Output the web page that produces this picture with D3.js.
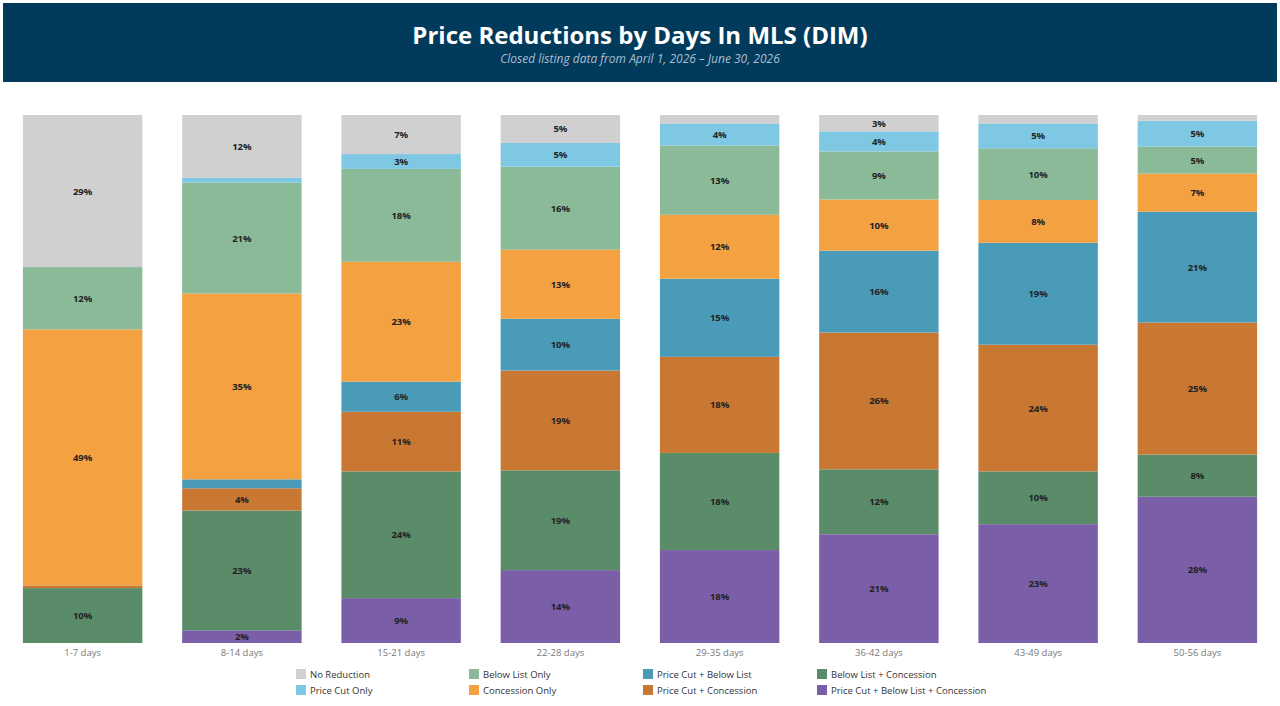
<!DOCTYPE html>
<html><head><meta charset="utf-8">
<script src="https://cdn.jsdelivr.net/npm/d3@7"></script>
<style>body{margin:0;background:#fff;font-family:"Open Sans","Noto Sans",sans-serif}</style>
</head><body><svg id="c" width="1280" height="706"></svg>
<script>
const categories = ["1-7 days","8-14 days","15-21 days","22-28 days","29-35 days","36-42  days","43-49 days","50-56 days"];
const seriesNames = ["Price Cut + Below List + Concession","Below List + Concession","Price Cut + Concession","Price Cut + Below List","Concession Only","Below List Only","Price Cut Only","No Reduction"];
const seriesColors = ["#7b5ea8","#5a8c6a","#c87833","#4a9bb7","#f4a142","#8aba98","#7ec8e3","#d0d0d0"];
const pcBlConc = [0, 2.4, 8.5, 13.8, 17.6, 20.6, 22.5, 27.7];
const blConc   = [10.4, 22.7, 24.0, 18.9, 18.4, 12.3, 10.0, 8.0];
const pcConc   = [0.5, 4.2, 11.3, 18.9, 18.2, 25.9, 24.0, 25.0];
const pcBl     = [0, 1.7, 5.7, 9.8, 14.8, 15.5, 19.3, 21.0];
const concOnly = [48.5, 35.2, 22.7, 13.1, 12.1, 9.7, 8.1, 7.2];
const blOnly   = [11.8, 21.0, 17.6, 15.7, 13.1, 9.1, 9.8, 5.1];
const pcOnly   = [0, 0.9, 2.8, 4.5, 4.2, 3.8, 4.7, 4.9];
const noRed    = [28.8, 11.9, 7.4, 5.3, 1.6, 3.1, 1.6, 1.1];
const seriesValues = [pcBlConc, blConc, pcConc, pcBl, concOnly, blOnly, pcOnly, noRed];
const legendOrder = [7,6,5,4,3,2,1,0];

const svg = d3.select("#c");
svg.append("rect").attr("x",3).attr("y",3).attr("width",1274).attr("height",79).attr("fill","#023a5c");
svg.append("text").attr("x",640).attr("y",44).attr("text-anchor","middle").attr("fill","#fff")
  .attr("font-size",24).attr("font-weight","bold").text("Price Reductions by Days In MLS (DIM)");
svg.append("text").attr("x",640).attr("y",63).attr("text-anchor","middle").attr("fill","#a9bfd0")
  .attr("font-size",12).attr("font-style","italic").text("Closed listing data from April 1, 2026 – June 30, 2026");

const x = d3.scaleBand().domain(categories).range([3,1277]).paddingInner(0.25).paddingOuter(0.125);
const y = d3.scaleLinear().domain([0,100]).range([643,115]);

const rows = categories.map((c,i)=>{const o={cat:c}; seriesNames.forEach((s,k)=>o[s]=seriesValues[k][i]); return o;});
// normalize to 100
rows.forEach(r=>{const t=d3.sum(seriesNames,s=>r[s]); seriesNames.forEach(s=>r[s]=r[s]*100/t);});
const stack = d3.stack().keys(seriesNames)(rows);
const g = svg.append("g");
stack.forEach((layer,k)=>{
  layer.forEach((d,i)=>{
    const v = seriesValues[k][i];
    if(d[1]-d[0] <= 0) return;
    g.append("rect").attr("x",x(categories[i])).attr("width",x.bandwidth())
      .attr("y",y(d[1])).attr("height",y(d[0])-y(d[1])).attr("fill",seriesColors[k]);
    if(v >= 2){
      g.append("text").attr("x",x(categories[i])+x.bandwidth()/2).attr("y",(y(d[0])+y(d[1]))/2+3.5)
        .attr("text-anchor","middle").attr("font-size",9.5).attr("font-weight","bold").attr("fill","#222")
        .text(Math.round(v)+"%");
    }
  });
});
const ax = svg.append("g").attr("transform","translate(0,643)").call(d3.axisBottom(x).tickSize(0).tickPadding(6));
ax.select(".domain").remove();
ax.selectAll("text").attr("font-size",9.5).attr("fill","#777").attr("font-family","Open Sans, sans-serif");

const lx=[296,469,643,817], ly=[674,690];
legendOrder.forEach((k,j)=>{
  const col=Math.floor(j/2), row=j%2;
  const lg=svg.append("g").attr("transform",`translate(${lx[col]},${ly[row]})`);
  lg.append("rect").attr("x",0).attr("y",-5).attr("width",10).attr("height",10).attr("fill",seriesColors[k]);
  lg.append("text").attr("x",14).attr("y",3.5).attr("font-size",9.5).attr("fill","#333").text(seriesNames[k]);
});
</script></body></html>
